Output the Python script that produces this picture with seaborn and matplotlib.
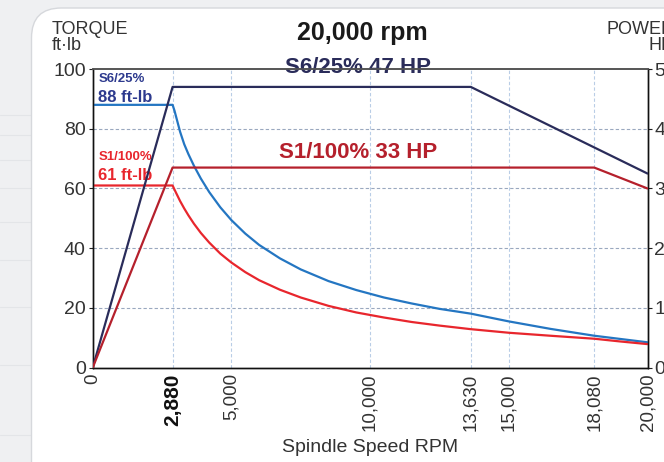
import numpy as np
import pandas as pd
import matplotlib.pyplot as plt
import seaborn as sns
from matplotlib.patches import FancyBboxPatch
from matplotlib.lines import Line2D

# torque curves (ft-lb)
s6_rpm = [0, 2880, 2950, 3050, 3150, 3300, 3450, 3650, 3900, 4200, 4600, 5000, 5500, 6000, 6750,
          7500, 8500, 9500, 10500, 11500, 12500, 13630, 15000, 16500, 18080, 20000]
s6_torque = [88, 88, 86.0, 82.5, 79.0, 74.8, 71.5, 67.6, 63.3, 58.8, 53.7, 49.4, 44.9, 41.1, 36.6,
             32.9, 29.0, 26.0, 23.5, 21.5, 19.7, 18.1, 15.5, 13.0, 10.7, 8.5]
s1_rpm = [0, 2880, 2950, 3050, 3150, 3300, 3450, 3650, 3900, 4200, 4600, 5000, 5500, 6000, 6750,
          7500, 8500, 9500, 10500, 11500, 12500, 13630, 15000, 16500, 18080, 19000, 20000]
s1_torque = [61, 61, 59.6, 57.7, 55.8, 53.3, 51.0, 48.2, 45.1, 41.9, 38.2, 35.2, 32.0, 29.3, 26.1,
             23.5, 20.7, 18.5, 16.8, 15.3, 14.1, 12.9, 11.7, 10.7, 9.7, 8.8, 7.9]

# power curves (HP)
s6_power_rpm = [0, 2880, 13630, 20000]
s6_power = [0, 47, 47, 32.5]
s1_power_rpm = [0, 2880, 18080, 20000]
s1_power = [0, 33.5, 33.5, 30]

xticks = [0, 2880, 5000, 10000, 13630, 15000, 18080, 20000]
xtick_labels = ["0", "2,880", "5,000", "10,000", "13,630", "15,000", "18,080", "20,000"]
vgrid = [2880, 5000, 10000, 13630, 15000, 18080]

sns.set_theme(style="white")
plt.rcParams['font.family'] = ['Liberation Sans', 'DejaVu Sans']

W, H = 664, 462
fig = plt.figure(figsize=(W / 100, H / 100), dpi=100)
fig.patch.set_facecolor("#eff0f2")

# faint lines of the page behind the card
for yy in [115, 135, 160, 188, 222, 260, 307, 365, 435]:
    fig.add_artist(Line2D([0, 31 / W], [1 - yy / H, 1 - yy / H], color="#e3e5e8", lw=0.8, zorder=-2))

card = FancyBboxPatch((31.5 / W, -0.2), 1.2, 1.2 - 8 / H,
                      boxstyle="round,pad=0,rounding_size=0.045",
                      transform=fig.transFigure, facecolor="white",
                      edgecolor="#d6d8dc", lw=1.0, mutation_aspect=W / H, zorder=-1)
fig.add_artist(card)

ax = fig.add_axes([92.7 / W, 1 - 367.7 / H, (647.5 - 92.7) / W, (367.7 - 69) / H])
ax.set_facecolor("none")
ax2 = ax.twinx()
ax2.set_facecolor("none")

# grid
for v in [20, 40, 60, 80]:
    ax.axhline(v, color="#9aa8bf", lw=0.8, ls=(0, (3, 2)), zorder=1)
for v in vgrid:
    ax.axvline(v, color="#b9cde6", lw=0.8, ls=(0, (3, 2)), zorder=1)

sns.lineplot(x=s6_rpm, y=s6_torque, ax=ax, color="#2476c2", lw=1.6, zorder=3)
sns.lineplot(x=s1_rpm, y=s1_torque, ax=ax, color="#e8262d", lw=1.6, zorder=3)
sns.lineplot(x=s6_power_rpm, y=s6_power, ax=ax2, color="#2a2c5a", lw=1.6, zorder=3)
sns.lineplot(x=s1_power_rpm, y=s1_power, ax=ax2, color="#b5202c", lw=1.6, zorder=3)

ax.set_xlim(0, 20000)
ax.set_ylim(0, 100)
ax2.set_ylim(0, 50)

ax.set_yticks([0, 20, 40, 60, 80, 100])
ax2.set_yticks([0, 10, 20, 30, 40, 50])
ax.set_xticks(xticks)
ax.set_xticklabels(xtick_labels, rotation=90)

for a in (ax, ax2):
    a.tick_params(axis="y", labelsize=14, labelcolor="#333333", length=3, width=0.8,
                  color="#222222", direction="out", pad=2)
ax.tick_params(axis="x", labelsize=13.5, labelcolor="#333333", length=0, pad=4)
ax.tick_params(axis="y", left=True)
ax2.tick_params(axis="y", right=True)

for lab in ax.get_xticklabels():
    if lab.get_text() == "2,880":
        lab.set_fontweight("bold")
        lab.set_fontsize(15)
        lab.set_color("#111111")

for a in (ax, ax2):
    for s in ["left", "right", "bottom"]:
        a.spines[s].set_color("#111111")
        a.spines[s].set_linewidth(1.0)
    a.spines["top"].set_color("#555555")
    a.spines["top"].set_linestyle((0, (1.5, 1)))
    a.spines["top"].set_linewidth(1.2)

ax.set_xlabel("Spindle Speed RPM", fontsize=14, color="#333333", labelpad=6)
ax.set_ylabel("")
ax2.set_ylabel("")

# annotations
ax.text(200, 96.5, "S6/25%", fontsize=9.5, fontweight="bold", color="#2d3a8e", va="center")
ax.text(200, 90.3, "88 ft-lb", fontsize=12, fontweight="bold", color="#2d3a8e", va="center")
ax.text(200, 70.5, "S1/100%", fontsize=9.5, fontweight="bold", color="#e8262d", va="center")
ax.text(200, 64.5, "61 ft-lb", fontsize=12, fontweight="bold", color="#e8262d", va="center")
ax.text(9560, 100.6, "S6/25% 47 HP", fontsize=16, fontweight="bold", color="#2a2c5a",
        ha="center", va="center", zorder=5)
ax.text(9560, 72, "S1/100% 33 HP", fontsize=16, fontweight="bold", color="#b5202c",
        ha="center", va="center", zorder=5)

fig.text(362 / W, 1 - 33 / H, "20,000 rpm", fontsize=18, fontweight="bold",
         color="#1a1a1a", ha="center", va="center")
fig.text(52 / W, 1 - 29 / H, "TORQUE", fontsize=13, color="#333333", va="center")
fig.text(52 / W, 1 - 46 / H, "ft·lb", fontsize=13, color="#333333", va="center")
fig.text(607 / W, 1 - 29 / H, "POWER", fontsize=13, color="#333333", va="center")
fig.text(648 / W, 1 - 46 / H, "HP", fontsize=13, color="#333333", va="center")

fig.savefig("out.png", dpi=100, facecolor=fig.get_facecolor())
